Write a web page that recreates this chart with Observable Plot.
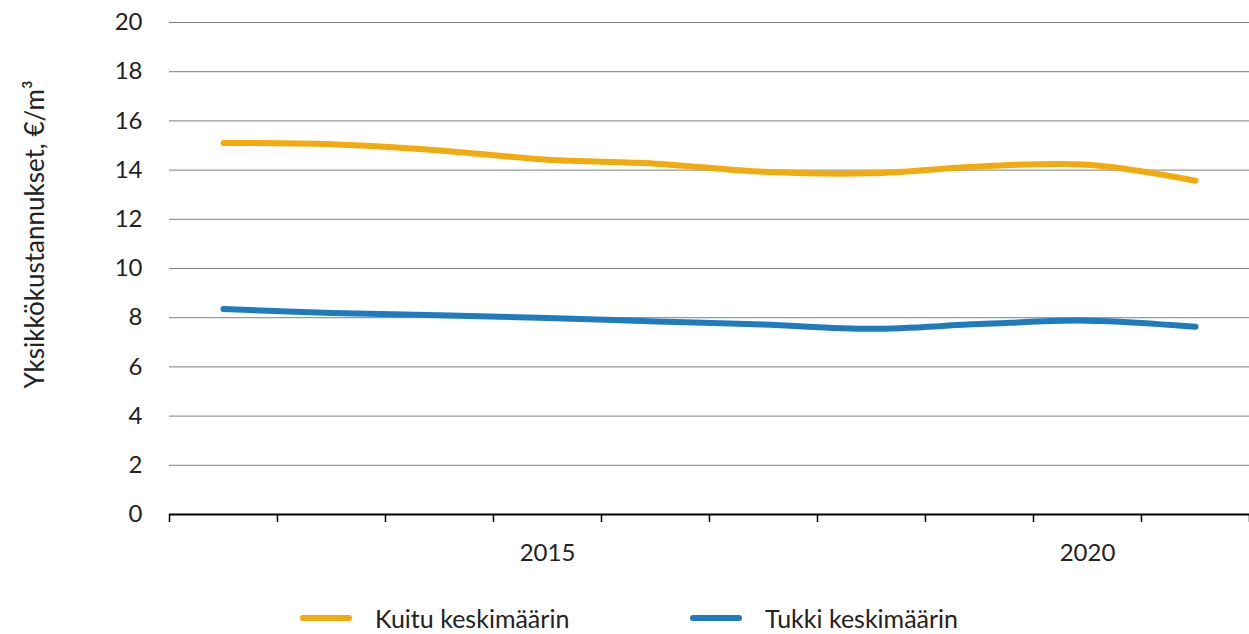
<!DOCTYPE html>
<html>
<head>
<meta charset="utf-8">
<script src="https://cdn.jsdelivr.net/npm/d3@7"></script>
<script src="https://cdn.jsdelivr.net/npm/@observablehq/plot@0.6"></script>
<style>
  html, body { margin: 0; padding: 0; background: #fff; }
  #wrap { position: relative; width: 1249px; height: 634px; overflow: hidden; font-family: Lato, "Open Sans", sans-serif; }
  #legend { position: absolute; left: 0; top: 602px; width: 1249px; height: 32px; }
  .item { position: absolute; top: 0; height: 32px; display: flex; align-items: center; font-size: 25px; line-height: 28px; color: #222; }
  .sw { width: 52px; height: 6px; border-radius: 3px; margin-right: 23px; }
</style>
</head>
<body>
<div id="wrap">
  <div id="chart"></div>
  <div id="legend"></div>
</div>
<script>
const years = [2012, 2013, 2014, 2015, 2016, 2017, 2018, 2019, 2020, 2021];
const kuitu = [15.10, 15.05, 14.80, 14.42, 14.26, 13.93, 13.87, 14.15, 14.22, 13.57];
const tukki = [8.35, 8.19, 8.10, 7.99, 7.85, 7.72, 7.55, 7.74, 7.88, 7.63];
const seriesNames = ["Kuitu keskimäärin", "Tukki keskimäärin"];
const seriesColors = ["#F2AA0C", "#1E7BBE"];
const yTicks = [0, 2, 4, 6, 8, 10, 12, 14, 16, 18, 20];
const xLabelTicks = [2015, 2020];
const yLabel = "Yksikkökustannukset, €/m³";

const rows = [];
years.forEach((yr, i) => {
  rows.push({year: yr, value: kuitu[i], series: seriesNames[0]});
  rows.push({year: yr, value: tukki[i], series: seriesNames[1]});
});
const boundaries = years.map(y => y - 0.5).concat([years[years.length - 1] + 0.5]);

const chart = Plot.plot({
  width: 1249,
  height: 580,
  marginLeft: 169,
  marginRight: 0,
  marginTop: 22,
  marginBottom: 66,
  style: {fontFamily: "Lato, 'Open Sans', sans-serif", fontSize: "24px", color: "#222", background: "#fff"},
  x: {domain: [boundaries[0], boundaries[boundaries.length - 1]]},
  y: {domain: [0, 20]},
  color: {domain: seriesNames, range: seriesColors},
  marks: [
    Plot.gridY(yTicks.filter(d => d > 0), {stroke: "#7f7f7f", strokeOpacity: 1, strokeWidth: 1}),
    Plot.axisY(yTicks, {tickSize: 0, tickPadding: 27, label: null, fontSize: 24}),
    Plot.axisX(boundaries, {tickSize: 8, tickFormat: () => "", label: null, stroke: "#000", strokeWidth: 1.5}),
    Plot.axisX(xLabelTicks, {tickSize: 0, tickPadding: 29, tickFormat: d => String(d), label: null, fontSize: 24}),
    Plot.ruleY([0], {stroke: "#000", strokeWidth: 2}),
    Plot.line(rows, {x: "year", y: "value", stroke: "series", z: "series", strokeWidth: 6, strokeLinecap: "round", strokeLinejoin: "round", curve: "catmull-rom"}),
    Plot.text([yLabel], {text: d => d, frameAnchor: "left", textAnchor: "middle", rotate: -90, dx: -134, dy: -34, fontSize: 26, fill: "#222"})
  ]
});
document.getElementById("chart").appendChild(chart);

const legend = document.getElementById("legend");
const lefts = [300, 690];
seriesNames.forEach((name, i) => {
  const it = document.createElement("div");
  it.className = "item";
  it.style.left = lefts[i] + "px";
  const sw = document.createElement("span");
  sw.className = "sw";
  sw.style.background = seriesColors[i];
  const tx = document.createElement("span");
  tx.textContent = name;
  it.appendChild(sw);
  it.appendChild(tx);
  legend.appendChild(it);
});
</script>
</body>
</html>
